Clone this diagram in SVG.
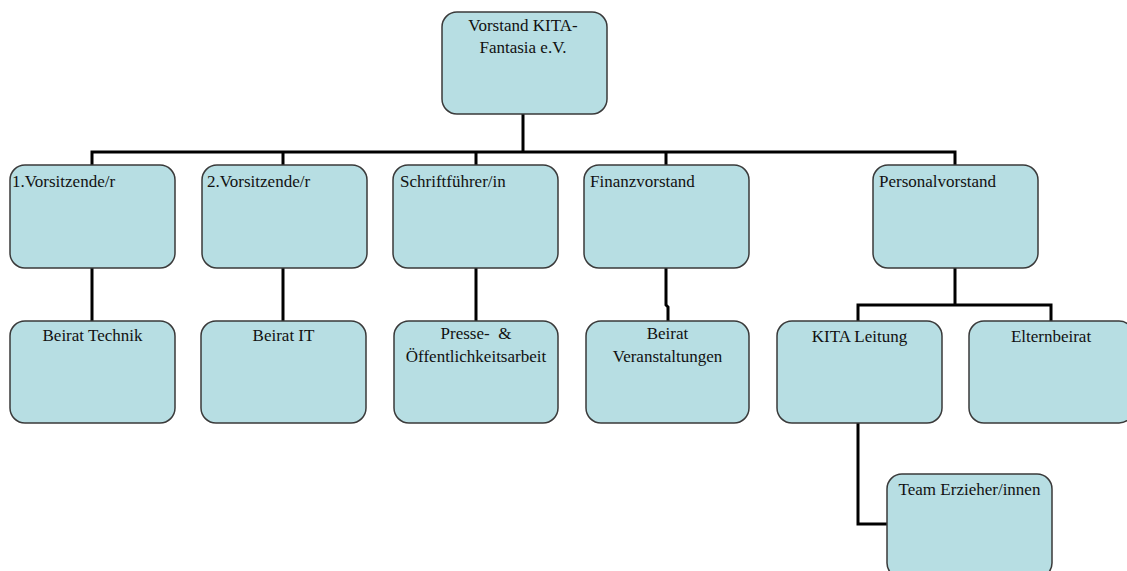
<svg xmlns="http://www.w3.org/2000/svg" width="1127" height="571" viewBox="0 0 1127 571">
<style>
.box{fill:#b7dee3;stroke:#3a3a3a;stroke-width:1.5}
.t{font-family:"Liberation Serif","Times New Roman",serif;font-size:17px;fill:#111}
.c{text-anchor:middle}
.ln{fill:none;stroke:#000;stroke-width:3}
</style>
<rect width="1127" height="571" fill="#fff"/>
<g id="connectors">
<path class="ln" d="M523 114V152M92 165V152H955V165M283 152V165M476 152V165M666 152V165"/>
<path class="ln" d="M92 268V321M283 268V321M476 268V321M666 268V305L668 307V321"/>
<path class="ln" d="M955 268V305M858 321V305H1051V321"/>
<path class="ln" d="M858 423V524H887"/>
</g>
<g id="n-vorstand"><rect class="box" x="442" y="12" width="165" height="102" rx="15"/><text class="t c" x="523" y="31">Vorstand KITA-</text><text class="t c" x="523" y="53">Fantasia e.V.</text></g>
<g id="n-v1"><rect class="box" x="10" y="165" width="165" height="103" rx="15"/><text class="t" x="12" y="187">1.Vorsitzende/r</text></g>
<g id="n-v2"><rect class="box" x="202" y="165" width="165" height="103" rx="15"/><text class="t" x="207" y="187">2.Vorsitzende/r</text></g>
<g id="n-schrift"><rect class="box" x="393" y="165" width="165" height="103" rx="15"/><text class="t" x="400" y="187">Schriftführer/in</text></g>
<g id="n-finanz"><rect class="box" x="584" y="165" width="165" height="103" rx="15"/><text class="t" x="590" y="187">Finanzvorstand</text></g>
<g id="n-personal"><rect class="box" x="873" y="165" width="165" height="103" rx="15"/><text class="t" x="879" y="187">Personalvorstand</text></g>
<g id="n-technik"><rect class="box" x="10" y="321" width="165" height="102" rx="15"/><text class="t c" x="92.5" y="341">Beirat Technik</text></g>
<g id="n-it"><rect class="box" x="201" y="321" width="165" height="102" rx="15"/><text class="t c" x="283.5" y="341">Beirat IT</text></g>
<g id="n-presse"><rect class="box" x="394" y="321" width="164" height="102" rx="15"/><text class="t c" x="476" y="339" xml:space="preserve">Presse-  &amp;</text><text class="t c" x="476" y="362">Öffentlichkeitsarbeit</text></g>
<g id="n-veranst"><rect class="box" x="586" y="321" width="163" height="102" rx="15"/><text class="t c" x="667.5" y="339">Beirat</text><text class="t c" x="667.5" y="362">Veranstaltungen</text></g>
<g id="n-kita"><rect class="box" x="777" y="321" width="165" height="102" rx="15"/><text class="t c" x="859.5" y="342">KITA Leitung</text></g>
<g id="n-eltern"><rect class="box" x="969" y="321" width="165" height="102" rx="15"/><text class="t c" x="1051" y="342">Elternbeirat</text></g>
<g id="n-team"><rect class="box" x="887" y="474" width="165" height="104" rx="15"/><text class="t c" x="969.5" y="495">Team Erzieher/innen</text></g>
</svg>
